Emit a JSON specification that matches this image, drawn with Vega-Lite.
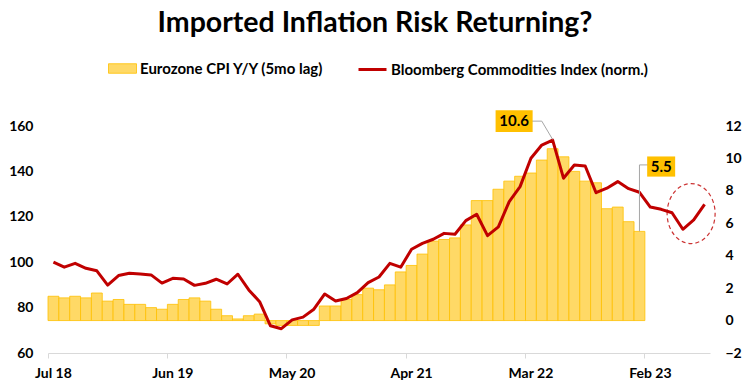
{
  "$schema": "https://vega.github.io/schema/vega-lite/v6.json",
  "width": 662,
  "height": 227,
  "autosize": {"type": "none"},
  "padding": {"left": 48, "top": 126, "right": 41, "bottom": 37},
  "background": "white",
  "title": {"text": "Imported Inflation Risk Returning?", "anchor": "middle", "frame": "group", "font": "Lato", "fontSize": 28.5, "fontWeight": "bold", "color": "#000000", "offset": 17, "dx": -4},
  "config": {
    "font": "Lato",
    "view": {"stroke": null},
    "axis": {"labelFont": "Lato", "labelFontWeight": "bold", "labelFontSize": 14, "labelColor": "#000000", "grid": false, "title": null}
  },
  "data": {"values": [
    {"m": "Jul 18", "cpi": 1.5, "bcom": 100.0},
    {"m": "Aug 18", "cpi": 1.4, "bcom": 97.8},
    {"m": "Sep 18", "cpi": 1.5, "bcom": 99.5},
    {"m": "Oct 18", "cpi": 1.4, "bcom": 97.3},
    {"m": "Nov 18", "cpi": 1.7, "bcom": 96.2},
    {"m": "Dec 18", "cpi": 1.2, "bcom": 89.9},
    {"m": "Jan 19", "cpi": 1.3, "bcom": 94.1},
    {"m": "Feb 19", "cpi": 1.0, "bcom": 95.1},
    {"m": "Mar 19", "cpi": 1.0, "bcom": 94.8},
    {"m": "Apr 19", "cpi": 0.8, "bcom": 94.4},
    {"m": "May 19", "cpi": 0.7, "bcom": 90.8},
    {"m": "Jun 19", "cpi": 1.0, "bcom": 92.9},
    {"m": "Jul 19", "cpi": 1.3, "bcom": 92.6},
    {"m": "Aug 19", "cpi": 1.4, "bcom": 89.8},
    {"m": "Sep 19", "cpi": 1.2, "bcom": 90.7},
    {"m": "Oct 19", "cpi": 0.7, "bcom": 92.5},
    {"m": "Nov 19", "cpi": 0.3, "bcom": 90.4},
    {"m": "Dec 19", "cpi": 0.1, "bcom": 94.7},
    {"m": "Jan 20", "cpi": 0.3, "bcom": 87.8},
    {"m": "Feb 20", "cpi": 0.4, "bcom": 82.6},
    {"m": "Mar 20", "cpi": -0.2, "bcom": 72.0},
    {"m": "Apr 20", "cpi": -0.3, "bcom": 70.7},
    {"m": "May 20", "cpi": -0.3, "bcom": 74.6},
    {"m": "Jun 20", "cpi": -0.3, "bcom": 75.8},
    {"m": "Jul 20", "cpi": -0.3, "bcom": 79.3},
    {"m": "Aug 20", "cpi": 0.9, "bcom": 86.0},
    {"m": "Sep 20", "cpi": 0.9, "bcom": 82.9},
    {"m": "Oct 20", "cpi": 1.3, "bcom": 84.0},
    {"m": "Nov 20", "cpi": 1.6, "bcom": 86.6},
    {"m": "Dec 20", "cpi": 2.0, "bcom": 91.0},
    {"m": "Jan 21", "cpi": 1.9, "bcom": 93.5},
    {"m": "Feb 21", "cpi": 2.2, "bcom": 99.5},
    {"m": "Mar 21", "cpi": 3.0, "bcom": 97.8},
    {"m": "Apr 21", "cpi": 3.4, "bcom": 105.7},
    {"m": "May 21", "cpi": 4.1, "bcom": 108.3},
    {"m": "Jun 21", "cpi": 4.9, "bcom": 110.1},
    {"m": "Jul 21", "cpi": 5.0, "bcom": 112.7},
    {"m": "Aug 21", "cpi": 5.1, "bcom": 112.3},
    {"m": "Sep 21", "cpi": 5.9, "bcom": 118.3},
    {"m": "Oct 21", "cpi": 7.4, "bcom": 121.1},
    {"m": "Nov 21", "cpi": 7.4, "bcom": 111.7},
    {"m": "Dec 21", "cpi": 8.1, "bcom": 115.6},
    {"m": "Jan 22", "cpi": 8.6, "bcom": 126.7},
    {"m": "Feb 22", "cpi": 8.9, "bcom": 133.3},
    {"m": "Mar 22", "cpi": 9.1, "bcom": 145.8},
    {"m": "Apr 22", "cpi": 9.9, "bcom": 151.6},
    {"m": "May 22", "cpi": 10.6, "bcom": 153.8},
    {"m": "Jun 22", "cpi": 10.1, "bcom": 137.0},
    {"m": "Jul 22", "cpi": 9.2, "bcom": 142.8},
    {"m": "Aug 22", "cpi": 8.6, "bcom": 142.4},
    {"m": "Sep 22", "cpi": 8.5, "bcom": 130.6},
    {"m": "Oct 22", "cpi": 6.9, "bcom": 132.6},
    {"m": "Nov 22", "cpi": 7.0, "bcom": 135.5},
    {"m": "Dec 22", "cpi": 6.1, "bcom": 132.4},
    {"m": "Jan 23", "cpi": 5.5, "bcom": 130.8},
    {"m": "Feb 23", "cpi": null, "bcom": 124.3},
    {"m": "Mar 23", "cpi": null, "bcom": 123.3},
    {"m": "Apr 23", "cpi": null, "bcom": 121.8},
    {"m": "May 23", "cpi": null, "bcom": 114.5},
    {"m": "Jun 23", "cpi": null, "bcom": 118.6},
    {"m": "Jul 23", "cpi": null, "bcom": 125.5}
  ]},
  "encoding": {
    "x": {
      "field": "m",
      "type": "ordinal",
      "scale": {
        "type": "band",
        "paddingInner": 0,
        "paddingOuter": 0,
        "domain": ["Jul 18","Aug 18","Sep 18","Oct 18","Nov 18","Dec 18","Jan 19","Feb 19","Mar 19","Apr 19","May 19","Jun 19","Jul 19","Aug 19","Sep 19","Oct 19","Nov 19","Dec 19","Jan 20","Feb 20","Mar 20","Apr 20","May 20","Jun 20","Jul 20","Aug 20","Sep 20","Oct 20","Nov 20","Dec 20","Jan 21","Feb 21","Mar 21","Apr 21","May 21","Jun 21","Jul 21","Aug 21","Sep 21","Oct 21","Nov 21","Dec 21","Jan 22","Feb 22","Mar 22","Apr 22","May 22","Jun 22","Jul 22","Aug 22","Sep 22","Oct 22","Nov 22","Dec 22","Jan 23","Feb 23","Mar 23","Apr 23","May 23","Jun 23","Jul 23"]
      },
      "axis": {
        "orient": "bottom",
        "values": ["Jul 18", "Jun 19", "May 20", "Apr 21", "Mar 22", "Feb 23"],
        "bandPosition": 0,
        "labelAngle": 0,
        "domainColor": "#D9D9D9",
        "domainWidth": 1,
        "tickColor": "#D9D9D9",
        "tickSize": 5,
        "labelPadding": 8,
        "title": null
      }
    }
  },
  "layer": [
    {
      "mark": {"type": "bar", "stroke": "#FFC000", "strokeWidth": 0.8},
      "encoding": {
        "y": {
          "field": "cpi",
          "type": "quantitative",
          "scale": {"domain": [-2, 12], "nice": false},
          "axis": {"orient": "right", "values": [-2, 0, 2, 4, 6, 8, 10, 12], "domain": false, "ticks": false, "labelPadding": 15, "title": null}
        },
        "fill": {
          "datum": "Eurozone CPI Y/Y (5mo lag)",
          "type": "nominal",
          "scale": {"range": ["#FFD966"]},
          "legend": {
            "orient": "none", "legendX": 60, "legendY": -72, "title": null, "padding": 0,
            "symbolType": "M-1,-0.34H1V0.34H-1Z", "symbolSize": 784,
            "symbolStrokeColor": "#FFC000", "symbolStrokeWidth": 0.8, "symbolOpacity": 1,
            "labelFont": "Lato", "labelFontWeight": "bold", "labelFontSize": 15, "labelColor": "#000000", "labelOffset": 3, "labelLimit": 400
          }
        }
      }
    },
    {
      "mark": {"type": "line", "strokeWidth": 3, "strokeJoin": "round"},
      "encoding": {
        "y": {
          "field": "bcom",
          "type": "quantitative",
          "scale": {"domain": [60, 160], "nice": false},
          "axis": {"orient": "left", "values": [60, 80, 100, 120, 140, 160], "domain": false, "ticks": false, "labelPadding": 15, "title": null}
        },
        "stroke": {
          "datum": "Bloomberg Commodities Index (norm.)",
          "type": "nominal",
          "scale": {"range": ["#C00000"]},
          "legend": {
            "orient": "none", "legendX": 309, "legendY": -72, "title": null, "padding": 0,
            "symbolType": "stroke", "symbolSize": 784, "symbolStrokeWidth": 3,
            "labelFont": "Lato", "labelFontWeight": "bold", "labelFontSize": 15, "labelColor": "#000000", "labelOffset": 3, "labelLimit": 400
          }
        }
      }
    },
    {
      "data": {"values": [
        {"m": "Mar 22", "m2": "Apr 22", "v": 12.3, "v2": 12.3},
        {"m": "Apr 22", "m2": "May 22", "v": 12.3, "v2": 11.17},
        {"m": "Jan 23", "m2": "Jan 23", "v": 5.5, "v2": 9.6},
        {"m": "Jan 23", "m2": "Feb 23", "v": 9.6, "v2": 9.6}
      ]},
      "mark": {"type": "rule", "color": "#A6A6A6", "strokeWidth": 1},
      "encoding": {
        "x": {"field": "m", "type": "ordinal"},
        "x2": {"field": "m2"},
        "y": {"field": "v", "type": "quantitative", "scale": {"domain": [-2, 12], "nice": false}, "axis": null},
        "y2": {"field": "v2"}
      }
    },
    {
      "data": {"values": [{"m": "Jan 22", "v": 12.3, "t": "10.6"}]},
      "encoding": {
        "x": {"field": "m", "type": "ordinal", "bandPosition": 0.95},
        "y": {"field": "v", "type": "quantitative", "scale": {"domain": [-2, 12], "nice": false}, "axis": null}
      },
      "layer": [
        {"mark": {"type": "point", "shape": "M-1.3,-0.76H1.3V0.76H-1.3Z", "size": 812, "filled": true, "fill": "#FFC000", "stroke": null, "opacity": 1}},
        {"mark": {"type": "text", "font": "Lato", "fontWeight": "bold", "fontSize": 15, "color": "#000000", "align": "center", "baseline": "middle"}, "encoding": {"text": {"field": "t"}}}
      ]
    },
    {
      "data": {"values": [{"m": "Mar 23", "v": 9.5, "t": "5.5"}]},
      "encoding": {
        "x": {"field": "m", "type": "ordinal"},
        "y": {"field": "v", "type": "quantitative", "scale": {"domain": [-2, 12], "nice": false}, "axis": null}
      },
      "layer": [
        {"mark": {"type": "point", "shape": "M-1,-0.72H1V0.72H-1Z", "size": 784, "filled": true, "fill": "#FFC000", "stroke": null, "opacity": 1}},
        {"mark": {"type": "text", "font": "Lato", "fontWeight": "bold", "fontSize": 15, "color": "#000000", "align": "center", "baseline": "middle"}, "encoding": {"text": {"field": "t"}}}
      ]
    },
    {
      "data": {"values": [{"m": "Jun 23", "v": 6.6}]},
      "mark": {"type": "point", "shape": "M-0.8,0A0.8,1 0 1,1 0.8,0A0.8,1 0 1,1 -0.8,0Z", "size": 3600, "filled": false, "stroke": "#C00000", "strokeWidth": 1.2, "strokeDash": [4, 3], "opacity": 0.8},
      "encoding": {
        "x": {"field": "m", "type": "ordinal", "bandPosition": 0.26},
        "y": {"field": "v", "type": "quantitative", "scale": {"domain": [-2, 12], "nice": false}, "axis": null}
      }
    }
  ],
  "resolve": {"scale": {"y": "independent"}}
}
